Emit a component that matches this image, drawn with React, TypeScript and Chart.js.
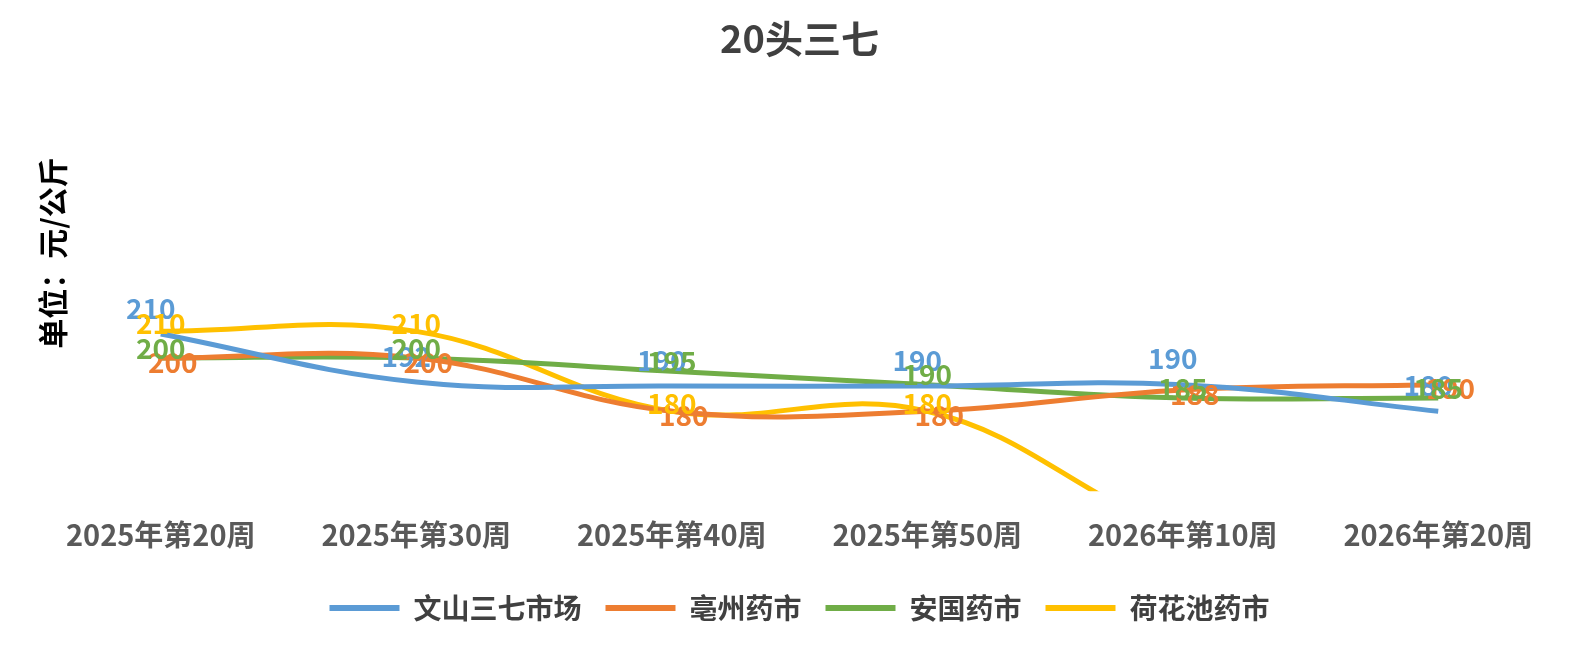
import React, { useEffect, useRef } from "react";
import { Chart, registerables } from "chart.js";
Chart.register(...registerables);

const categories = ["2025年第20周", "2025年第30周", "2025年第40周", "2025年第50周", "2026年第10周", "2026年第20周"];
const wenshan = [210, 192, 190, 190, 190, 180];
const bozhou = [200, 200, 180, 180, 188, 190];
const anguo = [200, 200, 195, 190, 185, 185];
const hehuachi = [210, 210, 180, 180, 0, 0];
const wenshanLine = [209, 191, 189.5, 189.5, 190, 180];
const hehuachiLine = [210, 210, 180, 180, 135, 120];
const seriesNames = ["文山三七市场", "亳州药市", "安国药市", "荷花池药市"];
const colors = ["#5B9BD5", "#ED7D31", "#70AD47", "#FFC000"];
const labelOffsets = [[-10, -26], [12, 4], [0, -10], [0, -8]];

const FONT = "'Noto Sans CJK SC', 'Noto Sans', sans-serif";

const labelPlugin = {
  id: "labels",
  afterDatasetsDraw(chart: any) {
    const ctx = chart.ctx;
    const area = chart.chartArea;
    chart.data.datasets.forEach((ds: any, i: number) => {
      const meta = chart.getDatasetMeta(i);
      meta.data.forEach((pt: any, j: number) => {
        const v = ds.labelsData[j];
        if (pt.y > area.bottom || pt.y < area.top) return;
        ctx.save();
        ctx.font = `bold 28px ${FONT}`;
        ctx.fillStyle = colors[i];
        ctx.textAlign = "center";
        ctx.textBaseline = "middle";
        ctx.fillText(String(v), pt.x + labelOffsets[i][0], pt.y + labelOffsets[i][1]);
        ctx.restore();
      });
    });
    ctx.save();
    ctx.font = `bold 30px ${FONT}`;
    ctx.fillStyle = "#000";
    ctx.translate(45, 245);
    ctx.rotate(-Math.PI / 2);
    ctx.textAlign = "center";
    ctx.textBaseline = "middle";
    ctx.fillText("单位：元/公斤", 0, 0);
    ctx.restore();
  },
};

export default function App() {
  const ref = useRef<HTMLCanvasElement>(null);
  useEffect(() => {
    const lines = [wenshanLine, bozhou, anguo, hehuachiLine];
    const labs = [wenshan, bozhou, anguo, hehuachi];
    const chart = new Chart(ref.current!, {
      type: "line",
      data: {
        labels: categories,
        datasets: seriesNames.map((n, i) => ({
          label: n,
          data: lines[i],
          labelsData: labs[i],
          borderColor: colors[i],
          backgroundColor: colors[i],
          borderWidth: 5,
          tension: 0.4,
          pointRadius: 0,
        })) as any,
      },
      options: {
        animation: false,
        responsive: false,
        layout: { padding: { left: 25, right: 10, top: 0, bottom: 10 } },
        scales: {
          x: {
            offset: true,
            grid: { display: false },
            border: { display: false },
            ticks: { color: "#595959", font: { family: FONT, size: 29, weight: "bold" }, padding: 18, maxRotation: 0 },
          },
          y: { display: false, min: 150, max: 300 },
        },
        plugins: {
          title: { display: true, text: "20头三七", color: "#404040", font: { family: FONT, size: 38, weight: "bold" }, padding: { top: 8, bottom: 30 } },
          legend: {
            position: "bottom",
            labels: {
              color: "#404040",
              font: { family: FONT, size: 28, weight: "bold" },
              boxWidth: 70,
              boxHeight: 6,
              padding: 24,
              generateLabels: (c: any) =>
                c.data.datasets.map((d: any, i: number) => ({
                  text: d.label, fillStyle: colors[i], strokeStyle: colors[i], lineWidth: 0, datasetIndex: i, fontColor: "#404040",
                })),
            },
          },
          tooltip: { enabled: false },
        },
      },
      plugins: [labelPlugin],
    });
    return () => chart.destroy();
  }, []);
  return <canvas ref={ref} width={1568} height={634} />;
}
